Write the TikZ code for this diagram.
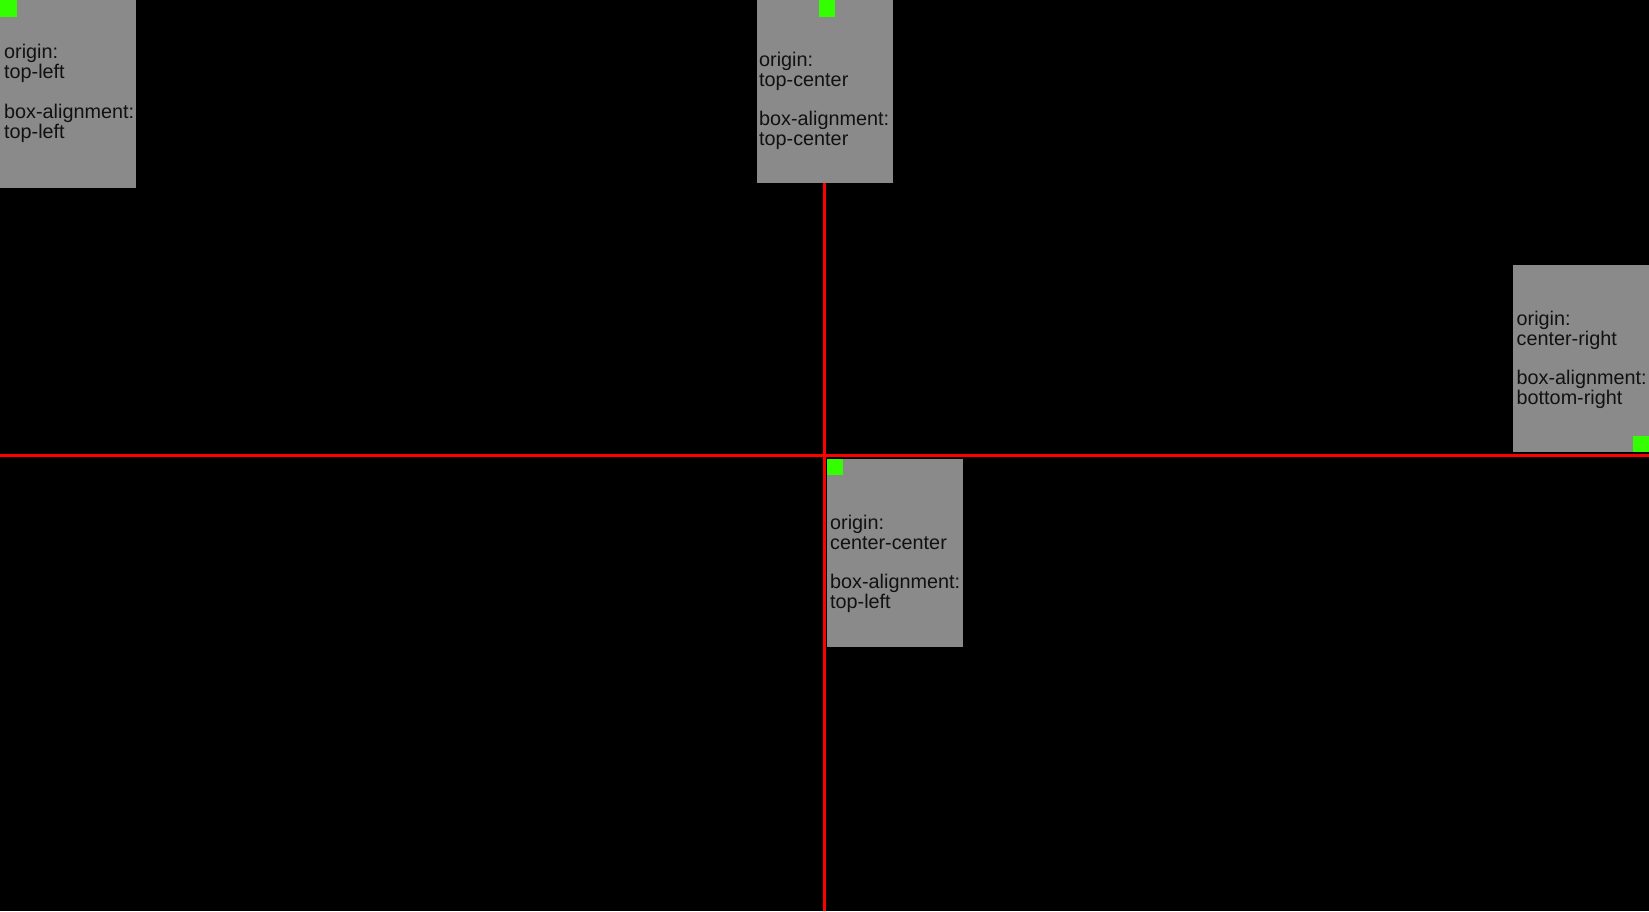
\documentclass[tikz,border=0pt]{standalone}
\usepackage{fontspec}
\setmainfont{Liberation Sans}
\definecolor{boxgray}{HTML}{8A8A8A}
\definecolor{mark}{HTML}{33FF00}
\definecolor{axis}{HTML}{FF0000}
\definecolor{txt}{HTML}{111111}
\begin{document}
\begin{tikzpicture}[x=1pt,y=-1pt,
  panel/.style={fill=boxgray,draw=none,anchor=north west,inner sep=0,minimum width=136pt,minimum height=#1},
  panel/.default=188pt,
  marker/.style={fill=mark,draw=none,anchor=north west,inner sep=0,minimum width=16.5pt,minimum height=16.5pt},
  label/.style={anchor=base west,inner sep=0,align=left,text=txt,font=\fontsize{19.8}{19.8}\selectfont},
  axisline/.style={draw=axis,line width=3.5pt}]
\fill[black] (0,0) rectangle (1649,911);
\useasboundingbox (0,0) rectangle (1649,911);
% axes
\coordinate (vtop) at (824.7,183);
\coordinate (vbot) at (824.7,911);
\coordinate (hl) at (0,455.5);
\coordinate (hr) at (1649,455.5);
\draw[axisline] (vtop) -- (vbot);
\draw[axisline] (hl) -- (hr);
% box 1
\node[panel] (b1) at (0,0) {};
\node[marker] (m1) at (0,0) {};
\node[label] (t1) at (4,138) {origin:\\top-left\\[19.8pt]box-alignment:\\top-left};
% box 2
\node[panel=183pt] (b2) at (757,0) {};
\node[marker] (m2) at (818.3,0) {};
\node[label] (t2) at (759,145.5) {origin:\\top-center\\[19.8pt]box-alignment:\\top-center};
% box 3
\node[panel=187.5pt] (b3) at (1513,264.7) {};
\node[marker] (m3) at (1632.5,435.7) {};
\node[label] (t3) at (1516.5,404.5) {origin:\\center-right\\[19.8pt]box-alignment:\\bottom-right};
% box 4
\node[panel] (b4) at (826.3,458.5) {};
\node[marker] (m4) at (826.3,458.5) {};
\node[label] (t4) at (830,608.5) {origin:\\center-center\\[19.8pt]box-alignment:\\top-left};
\end{tikzpicture}
\end{document}
